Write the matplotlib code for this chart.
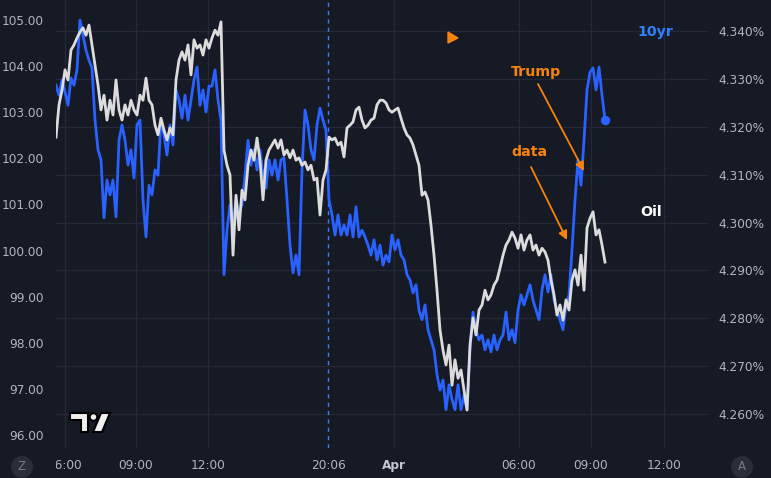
import numpy as np
import matplotlib
matplotlib.use("Agg")
import matplotlib.pyplot as plt
from matplotlib.patches import Polygon, Circle, FancyArrowPatch
from matplotlib.transforms import Bbox, TransformedBbox

# ---------------- data ----------------
yield_10yr = [
    4.3287, 4.3266, 4.3298, 4.3273, 4.3245, 4.3302, 4.3287, 4.3319, 4.3423, 4.3392,
    4.3360, 4.3339, 4.3323, 4.3214, 4.3152, 4.3131, 4.3010, 4.3089, 4.3058, 4.3089,
    4.3012, 4.3172, 4.3204, 4.3172, 4.3120, 4.3152, 4.3093, 4.3204, 4.3214, 4.3047,
    4.2970, 4.3078, 4.3058, 4.3110, 4.3099, 4.3214, 4.3183, 4.3141, 4.3204, 4.3162,
    4.3277, 4.3256, 4.3218, 4.3266, 4.3214, 4.3256, 4.3298, 4.3325, 4.3245, 4.3277,
    4.3231, 4.3285, 4.3285, 4.3319, 4.3256, 4.3214, 4.2891, 4.2984, 4.3037, 4.2995,
    4.3047, 4.3022, 4.3037, 4.3099, 4.3172, 4.3120, 4.3152, 4.3110, 4.3152, 4.3099,
    4.3072, 4.3131, 4.3099, 4.3131, 4.3089, 4.3131, 4.3135, 4.3047, 4.2953, 4.2895,
    4.2932, 4.2891, 4.3110, 4.3235, 4.3204, 4.3152, 4.3131, 4.3204, 4.3239, 4.3214,
    4.3193, 4.3047, 4.3016, 4.2974, 4.3016, 4.2974, 4.2995, 4.2974, 4.3016, 4.2970,
    4.3033, 4.2970, 4.2984, 4.2970, 4.2953, 4.2932, 4.2964, 4.2922, 4.2953, 4.2911,
    4.2932, 4.2918, 4.2974, 4.2943, 4.2964, 4.2932, 4.2922, 4.2891, 4.2880, 4.2853,
    4.2870, 4.2817, 4.2797, 4.2828, 4.2776, 4.2755, 4.2734, 4.2682, 4.2650, 4.2671,
    4.2609, 4.2661, 4.2630, 4.2609, 4.2661, 4.2609, 4.2640, 4.2609, 4.2734, 4.2813,
    4.2776, 4.2755, 4.2765, 4.2734, 4.2755, 4.2730, 4.2765, 4.2734, 4.2755, 4.2765,
    4.2813, 4.2755, 4.2776, 4.2749, 4.2817, 4.2849, 4.2828, 4.2849, 4.2870, 4.2838,
    4.2817, 4.2797, 4.2859, 4.2891, 4.2855, 4.2891, 4.2838, 4.2817, 4.2797, 4.2776,
    4.2828, 4.2849, 4.2943, 4.3047, 4.3131, 4.3078, 4.3172, 4.3277, 4.3314, 4.3323,
    4.3277, 4.3325, 4.3266, 4.3214,
]

oil = [
    102.46, 103.16, 103.48, 103.92, 103.70, 104.35, 104.46, 104.61, 104.74, 104.83,
    104.67, 104.89, 104.46, 104.02, 103.59, 103.05, 103.37, 102.83, 103.26, 102.94,
    103.70, 103.05, 102.83, 103.16, 102.94, 103.26, 103.05, 102.94, 103.37, 103.26,
    103.74, 103.26, 103.16, 102.72, 102.51, 102.87, 102.61, 102.40, 102.66, 102.51,
    103.70, 104.13, 104.31, 104.13, 104.46, 103.81, 104.57, 104.39, 104.46, 104.24,
    104.57, 104.39, 104.61, 104.78, 104.67, 104.96, 102.18, 101.85, 101.64, 99.90,
    101.20, 100.45, 101.31, 101.10, 101.85, 102.18, 101.96, 102.44, 101.96, 101.10,
    101.96, 102.18, 102.29, 102.40, 102.22, 102.40, 102.07, 102.18, 102.01, 102.18,
    101.96, 102.01, 101.85, 101.92, 101.75, 101.85, 101.53, 101.57, 100.77, 101.53,
    101.75, 102.46, 102.40, 102.44, 102.29, 102.35, 102.03, 102.66, 102.72, 102.79,
    103.05, 103.11, 102.83, 102.66, 102.72, 102.83, 102.87, 103.16, 103.26, 103.26,
    103.20, 103.05, 103.00, 103.05, 103.09, 102.87, 102.66, 102.51, 102.44, 102.29,
    102.07, 101.85, 101.20, 101.27, 101.10, 100.55, 99.90, 99.14, 98.28, 97.84,
    97.52, 97.95, 97.08, 97.63, 97.23, 97.41, 96.97, 96.54, 97.95, 98.54,
    98.17, 98.71, 98.82, 99.14, 98.93, 99.04, 99.25, 99.36, 99.62, 99.90,
    100.12, 100.23, 100.40, 100.27, 100.05, 100.34, 100.01, 100.23, 100.34, 100.01,
    100.12, 99.90, 100.05, 99.97, 99.79, 99.36, 99.04, 98.60, 98.82, 98.49,
    98.93, 98.71, 99.36, 99.58, 99.25, 99.90, 99.14, 100.49, 100.70, 100.84,
    100.34, 100.45, 100.12, 99.75,
]

time_tick_pos = [3, 26.67, 50.67, 112.67, 154.33, 178.33, 202.67]
time_tick_labels = ["06:00", "09:00", "12:00", "Apr", "06:00", "09:00", "12:00"]
crosshair_pos = 90.67
crosshair_label = "20:06"
yield_ticks = [4.26, 4.27, 4.28, 4.29, 4.30, 4.31, 4.32, 4.33, 4.34]
oil_ticks = [96, 97, 98, 99, 100, 101, 102, 103, 104, 105]

# ---------------- style ----------------
W, H = 771, 478
BG = "#161a25"
GRID = "#252935"
TXT = "#b2b5be"
BLUE = "#2962ff"
WHITE = "#dcdcdc"
ORANGE = "#f7830f"

def px(x, y):
    return (x / W, 1 - y / H)

def pin(x, y):
    # pixel position -> inches (for round shapes)
    return (x / 100, (H - y) / 100)

fig = plt.figure(figsize=(W / 100, H / 100), dpi=100)
fig.patch.set_facecolor(BG)
IN = fig.dpi_scale_trans

ax = fig.add_axes([56 / W, 30 / H, 652 / W, 448 / H])
ax.set_facecolor(BG)
ax2 = ax.twinx()

x = np.arange(len(oil))

ax.plot(x, yield_10yr, color=BLUE, lw=2.0, zorder=3)
ax.plot(x[-1], yield_10yr[-1], "o", color=BLUE, ms=5.8, zorder=4)
ax2.plot(x, oil, color=WHITE, lw=2.0, zorder=3)

ax.set_xlim(0, 217.33)
ax.set_ylim(4.2529, 4.3465)
ax2.set_ylim(95.718, 105.434)

# crosshair
ax.axvline(crosshair_pos, color="#3d7bff", lw=1, ls=(0, (3, 3)), zorder=2)

# ticks
ax.set_xticks(time_tick_pos + [crosshair_pos])
ax.set_xticklabels(time_tick_labels + [crosshair_label])
ax.tick_params(axis="x", length=0, pad=8, labelsize=8.7, colors=TXT)
ax.yaxis.tick_right()
ax.set_yticks(yield_ticks)
ax.set_yticklabels([f"{v:.3f}%" for v in yield_ticks])
ax.tick_params(axis="y", length=0, pad=7.2, labelsize=8.7, colors=TXT)
ax2.yaxis.tick_left()
ax2.set_yticks(oil_ticks)
ax2.set_yticklabels([f"{v:.2f}" for v in oil_ticks])
ax2.tick_params(axis="y", length=0, pad=8.6, labelsize=8.7, colors=TXT)

ax.grid(True, color=GRID, lw=1)
for s in list(ax.spines.values()) + list(ax2.spines.values()):
    s.set_visible(False)

ticks = ax.xaxis.get_major_ticks()
ticks[-1].gridline.set_visible(False)
for t in ticks:
    if t.label1.get_text() == "Apr":
        t.label1.set_fontweight("bold")
        t.label1.set_color("#c4c7cf")
clip = TransformedBbox(Bbox([[56 / W, 0], [1, 1]]), fig.transFigure)
ticks[0].label1.set_clip_box(clip)
ticks[0].label1.set_clip_on(True)

# annotations
fig.text(*px(655, 32), "10yr", color="#2f80ff", fontsize=10.2, fontweight="bold",
         ha="center", va="center")
fig.text(*px(651, 212), "Oil", color="#ffffff", fontsize=10.2, fontweight="bold",
         ha="center", va="center")
fig.text(*px(536, 72), "Trump", color=ORANGE, fontsize=10.2, fontweight="bold",
         ha="center", va="center")
fig.text(*px(529, 152), "data", color=ORANGE, fontsize=10.2, fontweight="bold",
         ha="center", va="center")
for (a, b) in [((538, 84), (584, 171)), ((531, 167), (567, 240))]:
    fig.patches.append(FancyArrowPatch(px(*a), px(*b), transform=fig.transFigure,
                                       arrowstyle="-|>", mutation_scale=13,
                                       color=ORANGE, lw=1.3, shrinkA=0, shrinkB=0))
fig.patches.append(Polygon([px(448, 32), px(458, 38), px(448, 43)], closed=True,
                           transform=fig.transFigure, color=ORANGE))

# TradingView logo
logo_kw = dict(facecolor="#f0f0f0", edgecolor="#000000", lw=1.5, zorder=5)
fig.patches.append(Polygon([px(70, 413), px(88, 413), px(88, 432), px(81, 432),
                            px(81, 420), px(70, 420)], closed=True,
                           transform=fig.transFigure, **logo_kw))
fig.patches.append(Circle(pin(93.5, 417), 0.038, transform=IN, **logo_kw))
fig.patches.append(Polygon([px(101, 413), px(110, 413), px(102, 432), px(93, 432)],
                           closed=True, transform=fig.transFigure, **logo_kw))

# corner buttons
for cx, letter in [(22, "Z"), (742, "A")]:
    fig.patches.append(Circle(pin(cx, 467), 0.11, transform=IN,
                              facecolor="#2a2e39", edgecolor="none"))
    fig.text(*px(cx, 467), letter, color="#787b86", fontsize=8.5,
             ha="center", va="center")

fig.savefig("out.png", dpi=100, facecolor=BG)
